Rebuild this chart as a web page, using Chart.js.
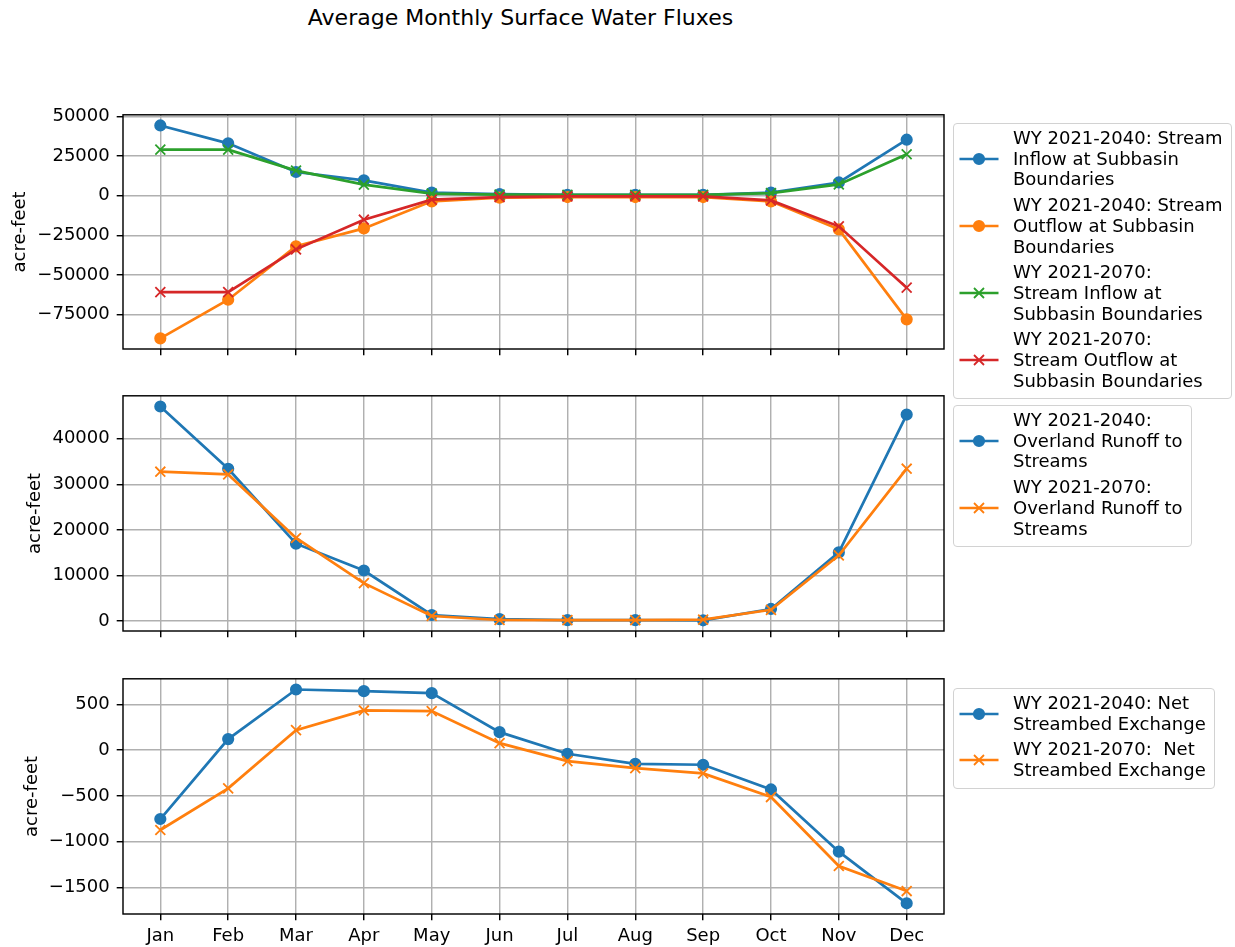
<!DOCTYPE html>
<html>
<head>
<meta charset="utf-8">
<title>Average Monthly Surface Water Fluxes</title>
<script src="https://cdn.jsdelivr.net/npm/chart.js@4/dist/chart.umd.min.js"></script>
<style>
  html, body { margin: 0; padding: 0; background: #fff; }
  body { width: 1235px; height: 947px; position: relative; overflow: hidden;
         font-family: 'DejaVu Sans', sans-serif; color: #000; }
  canvas { position: absolute; left: 0; }
  #title { position: absolute; left: 0; top: 5px; width: 1041px; text-align: center;
           font-size: 22px; line-height: 26px; white-space: nowrap; }
  .legend { position: absolute; box-sizing: border-box; background: rgba(255,255,255,0.8);
            border: 1.5px solid #d2d2d2; border-radius: 4px; padding: 4px 8px 7px 5px;
            font-size: 18px; }
  .entry { display: flex; align-items: center; }
  .entry + .entry { margin-top: 5px; }
  .entry svg { flex: none; margin-right: 14px; }
  .entry .lbl { line-height: 20.7px; white-space: pre; }
</style>
</head>
<body>
<div id="title">Average Monthly Surface Water Fluxes</div>
<canvas id="fluxes" width="960" height="272" style="top:97px"></canvas>
<canvas id="runoff" width="960" height="273" style="top:378px"></canvas>
<canvas id="exchange" width="960" height="286" style="top:661px"></canvas>
<div class="legend" id="legFluxes" style="left:953px; top:123px"></div>
<div class="legend" id="legRunoff" style="left:953px; top:405px"></div>
<div class="legend" id="legExchange" style="left:953px; top:688px"></div>

<script>
// Month categories shared by all three panels
const months = ['Jan', 'Feb', 'Mar', 'Apr', 'May', 'Jun', 'Jul', 'Aug', 'Sep', 'Oct', 'Nov', 'Dec'];

// Stream flows across subbasin boundaries (acre-feet)
const inflow2040  = [44300, 33000, 14900, 9600, 1900, 900, 500, 500, 500, 1900, 8300, 35300];
const outflow2040 = [-90100, -65700, -32000, -20700, -3600, -1300, -900, -900, -900, -3600, -21300, -78100];
const inflow2070  = [29000, 29000, 15800, 6900, 1300, 600, 500, 500, 500, 1600, 7100, 26100];
const outflow2070 = [-60900, -60900, -33900, -15200, -2500, -900, -500, -500, -500, -3000, -19400, -58100];

// Overland runoff to streams (acre-feet)
const runoff2040 = [47070, 33400, 16960, 11080, 1320, 400, 200, 200, 150, 2640, 15050, 45300];
const runoff2070 = [32760, 32160, 18220, 8300, 1100, 220, 200, 180, 300, 2450, 14390, 33420];

// Net streambed exchange (acre-feet)
const exchange2040 = [-753, 120, 662, 644, 622, 196, -40, -150, -160, -430, -1110, -1674];
const exchange2070 = [-873, -418, 218, 433, 426, 76, -120, -197, -255, -513, -1266, -1540];

// Y tick labels for each panel
const fluxTicks     = [-75000, -50000, -25000, 0, 25000, 50000];
const runoffTicks   = [0, 10000, 20000, 30000, 40000];
const exchangeTicks = [-1500, -1000, -500, 0, 500];

const BLUE = '#1f77b4', ORANGE = '#ff7f0e', GREEN = '#2ca02c', RED = '#d62728';

const panels = [
  {
    canvas: 'fluxes', legend: 'legFluxes', ticks: fluxTicks, showMonths: false,
    xAxisHeight: 20, ylabelPad: 9.7,
    series: [
      { label: 'WY 2021-2040: Stream\nInflow at Subbasin\nBoundaries', values: inflow2040, color: BLUE, marker: 'o' },
      { label: 'WY 2021-2040: Stream\nOutflow at Subbasin\nBoundaries', values: outflow2040, color: ORANGE, marker: 'o' },
      { label: 'WY 2021-2070:\nStream Inflow at\nSubbasin Boundaries', values: inflow2070, color: GREEN, marker: 'x' },
      { label: 'WY 2021-2070:\nStream Outflow at\nSubbasin Boundaries', values: outflow2070, color: RED, marker: 'x' }
    ]
  },
  {
    canvas: 'runoff', legend: 'legRunoff', ticks: runoffTicks, showMonths: false,
    xAxisHeight: 20, ylabelPad: 25,
    series: [
      { label: 'WY 2021-2040:\nOverland Runoff to\nStreams', values: runoff2040, color: BLUE, marker: 'o' },
      { label: 'WY 2021-2070:\nOverland Runoff to\nStreams', values: runoff2070, color: ORANGE, marker: 'x' }
    ]
  },
  {
    canvas: 'exchange', legend: 'legExchange', ticks: exchangeTicks, showMonths: true,
    xAxisHeight: 33, ylabelPad: 22,
    series: [
      { label: 'WY 2021-2040: Net\nStreambed Exchange', values: exchange2040, color: BLUE, marker: 'o' },
      { label: 'WY 2021-2070:  Net\nStreambed Exchange', values: exchange2070, color: ORANGE, marker: 'x' }
    ]
  }
];

Chart.defaults.font.family = "'DejaVu Sans', sans-serif";
Chart.defaults.font.size = 18;
Chart.defaults.color = '#000';

// Tick numbers use a true minus sign and no thousands separators
const fmtNumber = v => (v < 0 ? '\u2212' + Math.abs(v) : String(v));

// Four-sided axes frame drawn above the lines
const framePlugin = {
  id: 'frame',
  afterDatasetsDraw(chart) {
    const { ctx, chartArea: a } = chart;
    ctx.save();
    ctx.strokeStyle = '#000';
    ctx.lineWidth = 1.44;
    ctx.strokeRect(a.left, a.top, a.right - a.left, a.bottom - a.top);
    ctx.restore();
  }
};

const gridStyle = { color: '#b0b0b0', lineWidth: 1.44, drawTicks: true,
                    tickColor: '#000', tickLength: 6.3, tickWidth: 1.44 };

function buildPanel(p) {
  const all = p.series.flatMap(s => s.values);
  const lo = Math.min(...all), hi = Math.max(...all);
  const margin = (hi - lo) * 0.05;

  new Chart(document.getElementById(p.canvas), {
    type: 'line',
    data: {
      datasets: p.series.map((s, i) => ({
        label: s.label.replace(/\n/g, ' '),
        data: s.values.map((v, k) => ({ x: k, y: v })),
        borderColor: s.color,
        backgroundColor: s.color,
        borderWidth: 2.7,
        pointStyle: s.marker === 'o' ? 'circle' : 'crossRot',
        pointRadius: s.marker === 'o' ? 5.2 : 7,
        pointBorderWidth: 1.8,
        pointBackgroundColor: s.color,
        pointBorderColor: s.color,
        tension: 0,
        order: -i
      }))
    },
    options: {
      responsive: false,
      animation: false,
      devicePixelRatio: 1,
      events: [],
      layout: { padding: { top: 0, right: 16, bottom: 0, left: 0 } },
      plugins: { legend: { display: false }, tooltip: { enabled: false } },
      scales: {
        x: {
          type: 'linear',
          min: -0.55,
          max: months.length - 1 + 0.55,
          bounds: 'data',
          afterBuildTicks: ax => { ax.ticks = months.map((m, i) => ({ value: i })); },
          afterFit: ax => { ax.height = p.xAxisHeight; },
          ticks: {
            autoSkip: false, maxRotation: 0, padding: 5,
            callback: v => (p.showMonths ? (months[v] ?? '') : '')
          },
          grid: gridStyle,
          border: { display: false }
        },
        y: {
          type: 'linear',
          min: lo - margin,
          max: hi + margin,
          bounds: 'data',
          afterBuildTicks: ax => { ax.ticks = p.ticks.map(v => ({ value: v })); },
          afterFit: ax => { ax.width = 123; },
          ticks: { padding: 7, callback: v => fmtNumber(v) },
          grid: gridStyle,
          border: { display: false },
          title: { display: true, text: 'acre-feet', padding: { top: p.ylabelPad, bottom: 0 } }
        }
      }
    },
    plugins: [framePlugin]
  });

  // Legend box next to the panel
  const box = document.getElementById(p.legend);
  p.series.forEach(s => {
    const entry = document.createElement('div');
    entry.className = 'entry';
    let mark;
    if (s.marker === 'o') {
      mark = `<circle cx="20" cy="8" r="5.2" fill="${s.color}" stroke="${s.color}" stroke-width="1.8"/>`;
    } else {
      mark = `<path d="M15 3 L25 13 M15 13 L25 3" stroke="${s.color}" stroke-width="1.8" fill="none"/>`;
    }
    entry.innerHTML =
      `<svg width="40" height="16" viewBox="0 0 40 16">` +
      `<line x1="0.5" y1="8" x2="39.5" y2="8" stroke="${s.color}" stroke-width="2.7"/>${mark}</svg>` +
      `<div class="lbl"></div>`;
    entry.querySelector('.lbl').textContent = s.label;
    box.appendChild(entry);
  });
}

panels.forEach(buildPanel);
</script>
</body>
</html>
